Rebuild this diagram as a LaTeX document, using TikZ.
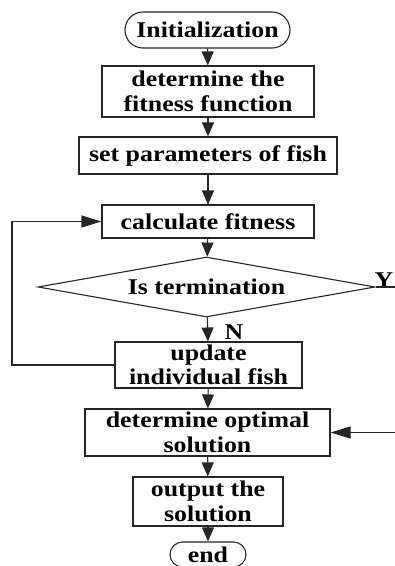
\documentclass[tikz,border=0pt]{standalone}
\usepackage{fontspec}
\setmainfont[FakeStretch=1.15]{Liberation Serif}
\usepackage{tikz}
\usetikzlibrary{shapes.geometric, shapes.misc, arrows.meta, positioning}

\begin{document}
\begin{tikzpicture}[
    x=1pt, y=-1pt,
    box/.style={rectangle, draw=black!85, line width=1.1pt, fill=white,
                inner sep=0pt, align=center,
                font=\fontsize{22.5}{24.5}\selectfont\bfseries},
    termbox/.style={rounded rectangle, draw=black!85, line width=1.1pt,
                    inner sep=0pt, align=center,
                    font=\fontsize{22.5}{24.5}\selectfont\bfseries},
    decbox/.style={diamond, draw=black!85, line width=1.1pt, inner sep=0pt,
                   aspect=5.6, align=center,
                   font=\fontsize{22.5}{24.5}\selectfont\bfseries},
    lbl/.style={font=\fontsize{22.5}{24.5}\selectfont\bfseries, inner sep=0pt},
    arr/.style={-{Triangle[length=14pt, width=12pt]}, line width=1.1pt, draw=black!85},
    sidearr/.style={-{Triangle[length=20pt, width=12pt]}, line width=1.1pt, draw=black!85},
    ln/.style={line width=1.1pt, draw=black!85}
]
\useasboundingbox (0,0) rectangle (395,566);

\node[termbox, minimum width=165pt, minimum height=36pt] (init) at (207.5,30) {Initialization};
\node[box, minimum width=212pt, minimum height=51pt] (fit) at (208,91.5) {determine the\\fitness function};
\node[box, minimum width=258pt, minimum height=37pt] (param) at (208,155.5) {set parameters of fish};
\node[box, minimum width=212pt, minimum height=33pt] (calc) at (208,221.5) {calculate fitness};
\node[decbox, minimum width=337pt, minimum height=60pt] (term) at (206.5,287) {Is termination};
\node[box, minimum width=187pt, minimum height=46pt] (upd) at (208.5,365) {update\\individual fish};
\node[box, minimum width=245pt, minimum height=47pt] (opt) at (207.5,432.5) {determine optimal\\solution};
\node[box, minimum width=150pt, minimum height=49pt] (out) at (208,501.5) {output the\\solution};
\node[termbox, minimum width=76pt, minimum height=25pt] (end) at (208,554.5) {end};

\node[lbl] (yes) at (384,280) {Y};
\node[lbl] (no) at (234,332) {N};

\coordinate (yend) at (395,287);
\coordinate (loopbot) at (12,365);
\coordinate (looptop) at (12,221.5);
\coordinate (optin) at (395,432.5);

\draw[arr] (init) -- (fit);
\draw[arr] (fit) -- (param);
\draw[arr] (param) -- (calc);
\draw[arr] (calc) -- (term);
\draw[arr] (term) -- (upd);
\draw[arr] (upd) -- (opt);
\draw[arr] (opt) -- (out);
\draw[arr] (out) -- (end);
\draw[sidearr] (upd.west) -- (loopbot) -- (looptop) -- (calc.west);
\draw[ln] (term.east) -- (yend);
\draw[sidearr] (optin) -- (opt.east);
\end{tikzpicture}
\end{document}
